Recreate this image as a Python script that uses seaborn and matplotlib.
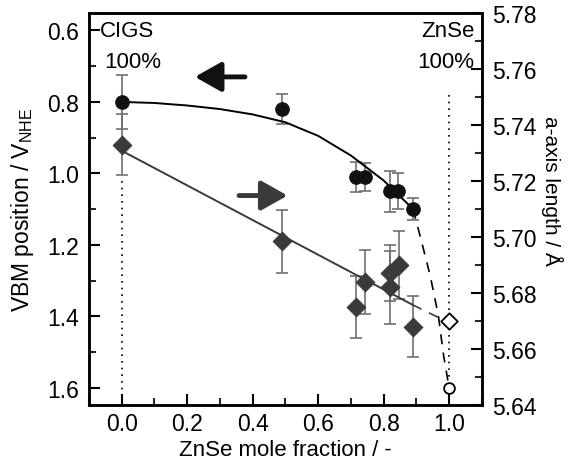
import numpy as np
import pandas as pd
import matplotlib
matplotlib.use("Agg")
import matplotlib.pyplot as plt
import seaborn as sns

# VBM position (left axis, circles)
vbm_x = [0.0, 0.49, 0.714, 0.742, 0.818, 0.844, 0.888]
vbm_y = [0.80, 0.82, 1.01, 1.01, 1.05, 1.05, 1.10]
vbm_err = [0.075, 0.043, 0.042, 0.040, 0.058, 0.050, 0.030]
vbm_znse = 1.60

# a-axis length (right axis, diamonds)
lat_x = [0.0, 0.49, 0.714, 0.742, 0.818, 0.818, 0.846, 0.888]
lat_y = [5.733, 5.6985, 5.675, 5.684, 5.682, 5.687, 5.690, 5.668]
lat_err = [0.011, 0.0113, 0.011, 0.0114, 0.013, 0.010, 0.012, 0.011]
lat_znse = 5.670

# guide lines
vbm_fit_x = [0.0, 0.1, 0.2, 0.3, 0.4, 0.5, 0.6, 0.7, 0.8, 0.89]
vbm_fit_y = [0.800, 0.803, 0.810, 0.820, 0.835, 0.857, 0.895, 0.950, 1.020, 1.100]
vbm_dash_x = [0.89, 0.912, 0.942, 0.967, 0.983, 0.997]
vbm_dash_y = [1.100, 1.178, 1.286, 1.398, 1.510, 1.585]
lat_fit_x = [0.0, 0.888]
lat_fit_y = [5.7308, 5.6758]
lat_dash_x = [0.888, 0.968]
lat_dash_y = [5.6758, 5.6712]

sns.set_style("ticks")
plt.rcParams['font.family'] = ['Liberation Sans', 'DejaVu Sans']
plt.rcParams['mathtext.fontset'] = 'custom'
plt.rcParams['mathtext.rm'] = 'Liberation Sans'
plt.rcParams['text.color'] = 'black'
plt.rcParams['axes.labelcolor'] = 'black'

fig = plt.figure(figsize=(5.7, 4.64), dpi=100)
ax = fig.add_axes([0.156, 0.125, 0.6895, 0.845])
ax2 = ax.twinx()

circ_col = '#111111'
dia_col = '#3a3a3a'
err_col = '#707070'

# dotted guides at the end members
ax.plot([0, 0], [1.02, 1.65], ls=(0, (1, 3)), color='black', lw=1.2)
ax.plot([1, 1], [0.78, 1.58], ls=(0, (1, 3)), color='black', lw=1.2)

# left axis: VBM
ax.errorbar(vbm_x, vbm_y, yerr=vbm_err, fmt='none', ecolor=err_col, elinewidth=1.2,
            capsize=4, capthick=1.2, zorder=2)
sns.lineplot(x=vbm_fit_x, y=vbm_fit_y, ax=ax, color='black', lw=1.4, sort=False, zorder=3)
ax.plot(vbm_dash_x, vbm_dash_y, color='black', lw=1.2, ls=(0, (6, 5)), zorder=3)
sns.scatterplot(x=vbm_x, y=vbm_y, ax=ax, marker='o', s=95, color=circ_col,
                edgecolor=circ_col, zorder=4)
ax.scatter([1.0], [vbm_znse], marker='o', s=60, facecolor='white', edgecolor='black',
           linewidth=1.3, zorder=5)

# right axis: a-axis length
ax2.errorbar(lat_x, lat_y, yerr=lat_err, fmt='none', ecolor=err_col, elinewidth=1.2,
             capsize=4, capthick=1.2, zorder=2)
sns.lineplot(x=lat_fit_x, y=lat_fit_y, ax=ax2, color=dia_col, lw=1.4, zorder=3)
ax2.plot(lat_dash_x, lat_dash_y, color=dia_col, lw=1.2, ls=(0, (6, 5)), zorder=3)
sns.scatterplot(x=lat_x, y=lat_y, ax=ax2, marker='D', s=90, color=dia_col,
                edgecolor=dia_col, zorder=4)
ax2.scatter([1.0], [lat_znse], marker='D', s=70, facecolor='white', edgecolor='black',
            linewidth=1.3, zorder=5)

# axes ranges and ticks
ax.set_xlim(-0.1, 1.1)
ax.set_ylim(1.648, 0.551)
ax2.set_ylim(5.64, 5.78)
ax.set_xticks(np.arange(0, 1.01, 0.2))
ax.set_xticks(np.arange(-0.1, 1.11, 0.1), minor=True)
ax.set_yticks(np.arange(0.6, 1.61, 0.2))
ax.set_yticks(np.arange(0.7, 1.61, 0.2), minor=True)
ax2.set_yticks(np.arange(5.64, 5.781, 0.02))
ax2.set_yticks(np.arange(5.65, 5.78, 0.02), minor=True)
ax.xaxis.set_major_formatter(matplotlib.ticker.FormatStrFormatter('%.1f'))
ax.yaxis.set_major_formatter(matplotlib.ticker.FormatStrFormatter('%.1f'))
ax2.yaxis.set_major_formatter(matplotlib.ticker.FormatStrFormatter('%.2f'))

for a in (ax, ax2):
    a.tick_params(which='major', direction='in', length=8, width=1.5, labelsize=16.5,
                  colors='black', pad=7)
    a.tick_params(which='minor', direction='in', length=5, width=1.5)
    for sp in a.spines.values():
        sp.set_linewidth(1.8)
        sp.set_color('black')
ax.tick_params(axis='y', which='both', right=False)
ax.tick_params(axis='x', which='both', top=False, pad=5)

ax.set_xlabel('ZnSe mole fraction / -', fontsize=16, va='center')
ax.xaxis.set_label_coords(0.5, -0.113)
ax.set_ylabel(r'VBM position / V$_{\mathrm{NHE}}$', fontsize=16.5, va='center')
ax.yaxis.set_label_coords(-0.168, 0.5)
ax2.set_ylabel('a-axis length / Å', fontsize=15, rotation=270, va='center')
ax2.yaxis.set_label_coords(1.178, 0.548)

# annotations
ax.text(-0.066, 0.600, 'CIGS', fontsize=16, va='center', ha='left')
ax.text(-0.054, 0.686, '100%', fontsize=16, va='center', ha='left')
ax.text(1.077, 0.600, 'ZnSe', fontsize=16, va='center', ha='right')
ax.text(1.077, 0.686, '100%', fontsize=16, va='center', ha='right')

ax.annotate('', xy=(0.215, 0.730), xytext=(0.385, 0.730),
            arrowprops=dict(arrowstyle='-|>,head_length=0.8,head_width=0.45',
                            mutation_scale=20, lw=3.5, color='#111111'))
ax.annotate('', xy=(0.515, 1.062), xytext=(0.35, 1.062),
            arrowprops=dict(arrowstyle='-|>,head_length=0.8,head_width=0.45',
                            mutation_scale=20, lw=3.5, color=dia_col))

fig.savefig('out.png', dpi=100)
